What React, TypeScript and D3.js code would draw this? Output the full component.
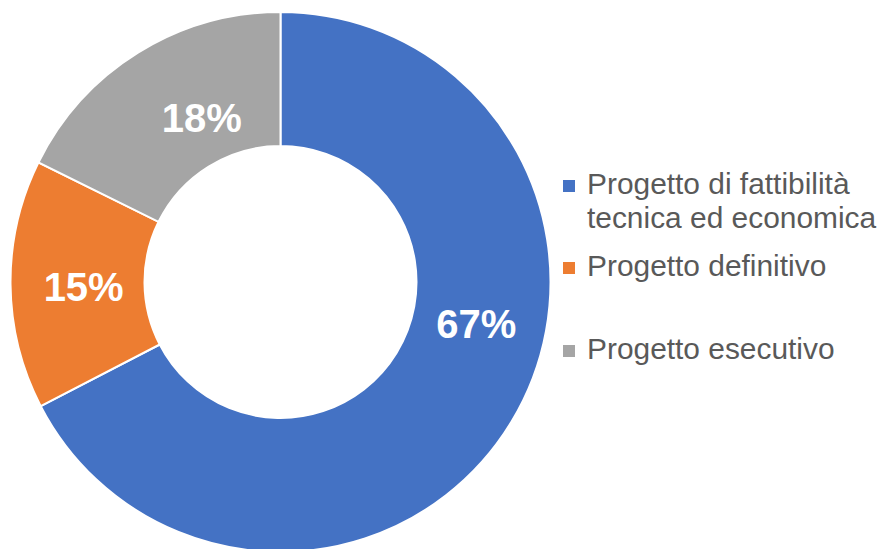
import React from "react";
import * as d3 from "d3";

const categories = ["Progetto di fattibilità tecnica ed economica", "Progetto definitivo", "Progetto esecutivo"];
const legendLines = [["Progetto di fattibilità", "tecnica ed economica"], ["Progetto definitivo"], ["Progetto esecutivo"]];
const values = [67.4, 14.9, 17.7];
const colors = ["#4472C4", "#ED7D31", "#A5A5A5"];
// label anchor positions along the ring (in value units from the start) as placed in the original
const labelAt = [28.3, 74.6, 92.9];
const labelRadiusFrac = [0.985, 0.97, 0.9];

const W = 879;
const H = 549;

export default function App() {
  const cx = 280.5;
  const cy = 282;
  const outerR = 270;
  const innerR = 136;
  const total = d3.sum(values);
  const pie = d3.pie<number>().sort(null).value((d) => d).startAngle(0).endAngle(2 * Math.PI);
  const arcs = pie(values);
  const arc = d3.arc<d3.PieArcDatum<number>>().innerRadius(innerR).outerRadius(outerR);
  const angle = d3.scaleLinear().domain([0, total]).range([0, 2 * Math.PI]);
  const midR = (innerR + outerR) / 2;

  const legendX = 563;
  const baselines = [[194, 228], [276], [359]];

  return (
    <svg width={W} height={H} style={{ position: "fixed", left: 0, top: 0, background: "#fff" }}
      fontFamily="'Liberation Sans', Arial, sans-serif">
      <g transform={`translate(${cx},${cy})`}>
        {arcs.map((a, i) => (
          <path key={i} d={arc(a) || ""} fill={colors[i]} stroke="#fff" strokeWidth={2} />
        ))}
        {arcs.map((a, i) => {
          const t = angle(labelAt[i]);
          const r = midR * labelRadiusFrac[i];
          const x = Math.sin(t) * r;
          const y = -Math.cos(t) * r;
          return (
            <text key={i} x={x} y={y} dy="0.36em" textAnchor="middle" fill="#fff"
              fontWeight="bold" fontSize={40}>
              {`${Math.round((a.data / total) * 100)}%`}
            </text>
          );
        })}
      </g>
      {categories.map((c, i) => (
        <g key={c}>
          <rect x={legendX} y={baselines[i][0] - 14} width={12} height={12} fill={colors[i]} />
          {legendLines[i].map((line, j) => (
            <text key={j} x={legendX + 24} y={baselines[i][j]} fontSize={29.9} fill="#595959">
              {line}
            </text>
          ))}
        </g>
      ))}
    </svg>
  );
}
